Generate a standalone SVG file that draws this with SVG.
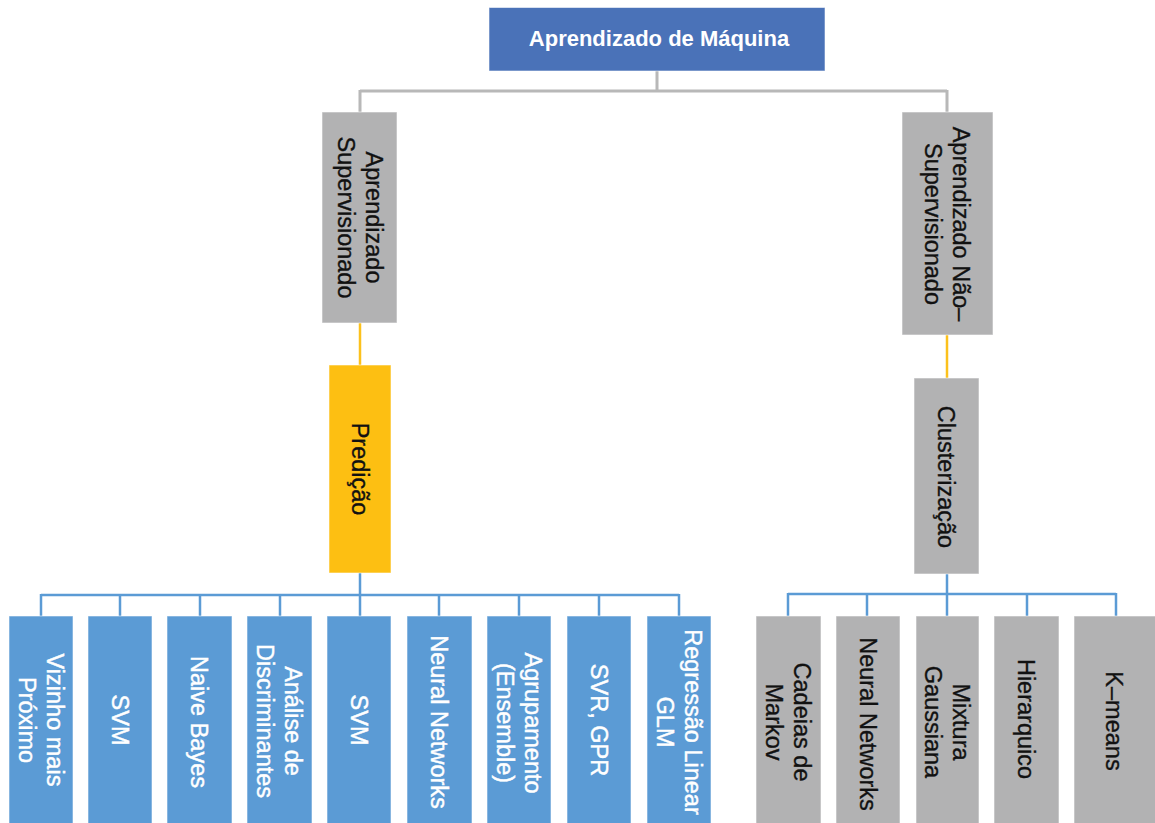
<svg xmlns="http://www.w3.org/2000/svg" width="1155" height="823" viewBox="0 0 1155 823">
  <style>
    .box { stroke: #ffffff; stroke-opacity: 0.55; stroke-width: 1; }
    .root { fill: #4a72b8; }
    .gray { fill: #b2b2b3; }
    .gold { fill: #fdbf12; }
    .blue { fill: #5b9bd5; }
    .lbl { font-family: "Liberation Sans", Arial, sans-serif; font-size: 23.5px; text-anchor: middle; }
    .dark { fill: #111111; stroke: #111111; stroke-width: 0.35px; }
    .light { fill: #ffffff; stroke: #ffffff; stroke-width: 0.45px; }
    .title { font-family: "Liberation Sans", Arial, sans-serif; font-size: 22px; font-weight: bold; fill: #ffffff; text-anchor: middle; }
    .c-gray { stroke: #b8b8b8; stroke-width: 3; fill: none; }
    .c-gold { stroke: #fcc11c; stroke-width: 2.5; fill: none; }
    .c-blue { stroke: #5b9bd5; stroke-width: 2.5; fill: none; }
  </style>
  <rect width="1155" height="823" fill="#ffffff"/>

  <!-- connectors -->
  <g id="connectors">
    <path class="c-gray" d="M657,71 V91 M360,91 H947 M360,90 V112 M947,90 V112"/>
    <path class="c-gold" d="M360,323 V365 M947,335 V378"/>
    <path class="c-blue" d="M360,573 V616 M41,595 H679 M41,594 V616 M120,595 V616 M200,595 V616 M280,595 V616 M439,595 V616 M519,595 V616 M599,595 V616 M679,594 V616"/>
    <path class="c-blue" d="M947,574 V616 M788,594 H1116 M788,593 V616 M867,594 V616 M1027,594 V616 M1116,593 V616"/>
  </g>

  <!-- root -->
  <g id="n-root">
    <rect class="box root" x="489" y="7.5" width="336" height="63.5"/>
    <text class="title" x="659" y="46">Aprendizado de Máquina</text>
  </g>

  <!-- level 1 -->
  <g id="n-supervisionado">
    <rect class="box gray" x="322" y="112" width="75" height="211"/>
    <g transform="translate(359.5,217.5) rotate(90)">
      <text class="lbl dark" x="0" y="-6.5">Aprendizado</text>
      <text class="lbl dark" x="0" y="21.5">Supervisionado</text>
    </g>
  </g>
  <g id="n-nao-supervisionado">
    <rect class="box gray" x="902" y="112" width="91" height="223"/>
    <g transform="translate(947.5,224) rotate(90)">
      <text class="lbl dark" x="0" y="-5.5">Aprendizado Não–</text>
      <text class="lbl dark" x="0" y="22.5">Supervisionado</text>
    </g>
  </g>

  <!-- level 2 -->
  <g id="n-predicao">
    <rect class="box gold" x="329" y="365" width="62" height="208"/>
    <g transform="translate(360,469) rotate(90)">
      <text class="lbl dark" x="0" y="8.5">Predição</text>
    </g>
  </g>
  <g id="n-clusterizacao">
    <rect class="box gray" x="914" y="378" width="65" height="196"/>
    <g transform="translate(946.5,477) rotate(90)">
      <text class="lbl dark" x="0" y="8.5">Clusterização</text>
    </g>
  </g>

  <!-- prediction methods -->
  <g id="n-vizinho">
    <rect class="box blue" x="9" y="616" width="64" height="210"/>
    <g transform="translate(41,720) rotate(90)">
      <text class="lbl light" x="0" y="-5.5">Vizinho mais</text>
      <text class="lbl light" x="0" y="22.5">Próximo</text>
    </g>
  </g>
  <g id="n-svm-1">
    <rect class="box blue" x="88" y="616" width="64" height="210"/>
    <g transform="translate(120,720) rotate(90)">
      <text class="lbl light" x="0" y="8.5">SVM</text>
    </g>
  </g>
  <g id="n-naive-bayes">
    <rect class="box blue" x="167" y="616" width="65" height="210"/>
    <g transform="translate(199.5,722) rotate(90)">
      <text class="lbl light" x="0" y="8.5">Naive Bayes</text>
    </g>
  </g>
  <g id="n-discriminantes">
    <rect class="box blue" x="247" y="616" width="65" height="210"/>
    <g transform="translate(279.5,721) rotate(90)">
      <text class="lbl light" x="0" y="-5.5">Análise de</text>
      <text class="lbl light" x="0" y="22.5">Discriminantes</text>
    </g>
  </g>
  <g id="n-svm-2">
    <rect class="box blue" x="327" y="616" width="64" height="210"/>
    <g transform="translate(359,720) rotate(90)">
      <text class="lbl light" x="0" y="8.5">SVM</text>
    </g>
  </g>
  <g id="n-neural-1">
    <rect class="box blue" x="407" y="616" width="65" height="210"/>
    <g transform="translate(439.5,722) rotate(90)">
      <text class="lbl light" x="0" y="8.5">Neural Networks</text>
    </g>
  </g>
  <g id="n-ensemble">
    <rect class="box blue" x="487" y="616" width="64" height="210"/>
    <g transform="translate(519,723) rotate(90)">
      <text class="lbl light" x="0" y="-5.5">Agrupamento</text>
      <text class="lbl light" x="0" y="22.5">(Ensemble)</text>
    </g>
  </g>
  <g id="n-svr-gpr">
    <rect class="box blue" x="567" y="616" width="64" height="210"/>
    <g transform="translate(599,720) rotate(90)">
      <text class="lbl light" x="0" y="8.5">SVR, GPR</text>
    </g>
  </g>
  <g id="n-regressao">
    <rect class="box blue" x="647" y="616" width="64" height="210"/>
    <g transform="translate(679,722) rotate(90)">
      <text class="lbl light" x="0" y="-5.5">Regressão Linear</text>
      <text class="lbl light" x="0" y="22.5">GLM</text>
    </g>
  </g>

  <!-- clustering methods -->
  <g id="n-markov">
    <rect class="box gray" x="756" y="616" width="65" height="210"/>
    <g transform="translate(788.5,722) rotate(90)">
      <text class="lbl dark" x="0" y="-5.5">Cadeias de</text>
      <text class="lbl dark" x="0" y="22.5">Markov</text>
    </g>
  </g>
  <g id="n-neural-2">
    <rect class="box gray" x="836" y="616" width="64" height="210"/>
    <g transform="translate(868,724) rotate(90)">
      <text class="lbl dark" x="0" y="8.5">Neural Networks</text>
    </g>
  </g>
  <g id="n-gaussiana">
    <rect class="box gray" x="916" y="616" width="63" height="210"/>
    <g transform="translate(947.5,722) rotate(90)">
      <text class="lbl dark" x="0" y="-5.5">Mixtura</text>
      <text class="lbl dark" x="0" y="22.5">Gaussiana</text>
    </g>
  </g>
  <g id="n-hierarquico">
    <rect class="box gray" x="994" y="616" width="65" height="210"/>
    <g transform="translate(1026.5,719) rotate(90)">
      <text class="lbl dark" x="0" y="8.5">Hierarquico</text>
    </g>
  </g>
  <g id="n-kmeans">
    <rect class="box gray" x="1074" y="616" width="90" height="210"/>
    <g transform="translate(1114,721) rotate(90)">
      <text class="lbl dark" x="0" y="8.5">K–means</text>
    </g>
  </g>
</svg>
